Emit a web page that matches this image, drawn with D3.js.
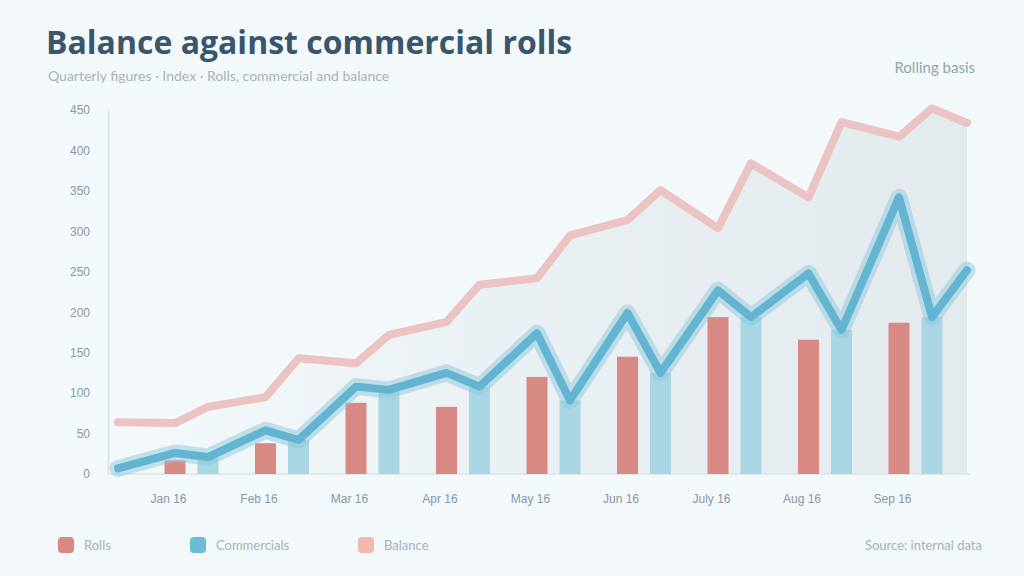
<!DOCTYPE html>
<html>
<head>
<meta charset="utf-8">
<script src="https://cdn.jsdelivr.net/npm/d3@7"></script>
<style>
	body { margin: 0; background: #f3f9fb; }
	svg { display: block; font-family: Lato, "Open Sans", sans-serif; }
</style>
</head>
<body>
<div id="chart"></div>
<script>
// categories and series
var categories = ["Jan 16", "Feb 16", "Mar 16", "Apr 16", "May 16", "Jun 16", "July 16", "Aug 16", "Sep 16"];
var rollsValues = [17, 38, 88, 83, 120, 145, 194, 166, 187];
var commercialValues = [21, 42, 104, 108, 91, 125, 194, 178, 194];
// trend line: start, then one point per bar (rolls, commercial) per category, then end
var commercialTrend = [7, 26, 21, 54, 42, 108, 104, 125, 108, 174, 91, 199, 125, 227, 194, 248, 178, 342, 194, 252];
var balanceTrend = [64, 63, 83, 95, 143, 137, 172, 188, 234, 242, 295, 314, 351, 304, 384, 342, 435, 417, 452, 434];
var yTicks = [0, 50, 100, 150, 200, 250, 300, 350, 400, 450];
var legendItems = ["Rolls", "Commercials", "Balance"];

var width = 1024, height = 576;
var plotLeft = 108, plotRight = 970, plotTop = 110, plotBottom = 474;
var barWidth = 21, pairGap = 33;

var svg = d3.select("#chart").append("svg")
	.attr("width", width)
	.attr("height", height);

svg.append("rect").attr("width", width).attr("height", height).attr("fill", "#f3f9fb");

var x = d3.scalePoint().domain(categories).range([175, 899]);
var y = d3.scaleLinear().domain([0, 450]).range([plotBottom, plotTop]);

// x position of every trend point
var slotX = [plotLeft + 10];
categories.forEach(function (c) {
	slotX.push(x(c));
	slotX.push(x(c) + pairGap);
});
slotX.push(plotRight - 3);

// soft grey area under the balance line
var defs = svg.append("defs");
var grad = defs.append("linearGradient").attr("id", "areaGrad")
	.attr("x1", "0").attr("x2", "1").attr("y1", "0").attr("y2", "0");
grad.append("stop").attr("offset", "0%").attr("stop-color", "#dfe6ea").attr("stop-opacity", 0);
grad.append("stop").attr("offset", "45%").attr("stop-color", "#dfe6ea").attr("stop-opacity", 0.45);
grad.append("stop").attr("offset", "100%").attr("stop-color", "#dfe6ea").attr("stop-opacity", 0.8);

var area = d3.area()
	.x(function (d, i) { return slotX[i]; })
	.y0(y(0))
	.y1(function (d) { return y(d); });

svg.append("path")
	.datum(balanceTrend)
	.attr("d", area)
	.attr("fill", "url(#areaGrad)");

// axes
var yAxis = svg.append("g")
	.attr("transform", "translate(" + plotLeft + ",0)")
	.call(d3.axisLeft(y).tickValues(yTicks).tickSize(0).tickPadding(18).tickFormat(d3.format("d")));
yAxis.select(".domain").attr("stroke", "#dbe4e9").attr("stroke-width", 2);
yAxis.selectAll("text").attr("fill", "#8798a6").style("font-size", "12px");

var xAxis = svg.append("g")
	.attr("transform", "translate(0," + plotBottom + ")")
	.call(d3.axisBottom(x).tickSize(0).tickPadding(20));
xAxis.select(".domain").attr("d", "M" + plotLeft + ",0H" + plotRight).attr("stroke", "#e1e8ec").attr("stroke-width", 2);
xAxis.selectAll("text").attr("fill", "#8798a6").style("font-size", "12px")
	.attr("dx", -7);

// bars
svg.append("g").selectAll("rect")
	.data(commercialValues)
	.enter().append("rect")
	.attr("x", function (d, i) { return x(categories[i]) + pairGap - barWidth / 2; })
	.attr("y", function (d) { return y(d); })
	.attr("width", barWidth)
	.attr("height", function (d) { return y(0) - y(d); })
	.attr("fill", "#a9d6e4");

svg.append("g").selectAll("rect")
	.data(rollsValues)
	.enter().append("rect")
	.attr("x", function (d, i) { return x(categories[i]) - barWidth / 2; })
	.attr("y", function (d) { return y(d); })
	.attr("width", barWidth)
	.attr("height", function (d) { return y(0) - y(d); })
	.attr("fill", "#d98983");

var line = d3.line()
	.x(function (d, i) { return slotX[i]; })
	.y(function (d) { return y(d); });

// balance line
svg.append("path")
	.datum(balanceTrend)
	.attr("d", line)
	.attr("fill", "none")
	.attr("stroke", "#ebc3c3")
	.attr("stroke-width", 8)
	.attr("stroke-linejoin", "round")
	.attr("stroke-linecap", "round");

// commercial trend: halo then core
svg.append("path")
	.datum(commercialTrend)
	.attr("d", line)
	.attr("fill", "none")
	.attr("stroke", "#8cc8dc")
	.attr("stroke-opacity", 0.5)
	.attr("stroke-width", 17)
	.attr("stroke-linejoin", "round")
	.attr("stroke-linecap", "round");

svg.append("path")
	.datum(commercialTrend)
	.attr("d", line)
	.attr("fill", "none")
	.attr("stroke", "#62b4d0")
	.attr("stroke-width", 8)
	.attr("stroke-linejoin", "round")
	.attr("stroke-linecap", "round");

// titles
svg.append("text").text("Balance against commercial rolls")
	.attr("x", 46).attr("y", 54)
	.attr("fill", "#3a566d")
	.style("font-family", "'Open Sans', sans-serif")
	.style("font-size", "32px").style("font-weight", "bold");

svg.append("text").text("Quarterly figures · Index · Rolls, commercial and balance")
	.attr("x", 48).attr("y", 81)
	.attr("fill", "#a3b4bf")
	.style("font-size", "14px");

svg.append("text").text("Rolling basis")
	.attr("x", 975).attr("y", 73)
	.attr("text-anchor", "end")
	.attr("fill", "#8fa6b0")
	.style("font-size", "15px");

// legend
var legendColors = ["#d98983", "#6bbdd6", "#f1b9ae"];
var legendX = [58, 190, 358];
var legend = svg.append("g").selectAll("g")
	.data(legendItems)
	.enter().append("g")
	.attr("transform", function (d, i) { return "translate(" + legendX[i] + ",545)"; });

legend.append("rect")
	.attr("x", 0).attr("y", -8)
	.attr("width", 16).attr("height", 16)
	.attr("rx", 4)
	.attr("fill", function (d, i) { return legendColors[i]; });

legend.append("text").text(function (d) { return d; })
	.attr("x", 26).attr("y", 5)
	.attr("fill", "#a3b3bd")
	.style("font-size", "13px");

svg.append("text").text("Source: internal data")
	.attr("x", 982).attr("y", 550)
	.attr("text-anchor", "end")
	.attr("fill", "#a3b3bd")
	.style("font-size", "13px");
</script>
</body>
</html>
